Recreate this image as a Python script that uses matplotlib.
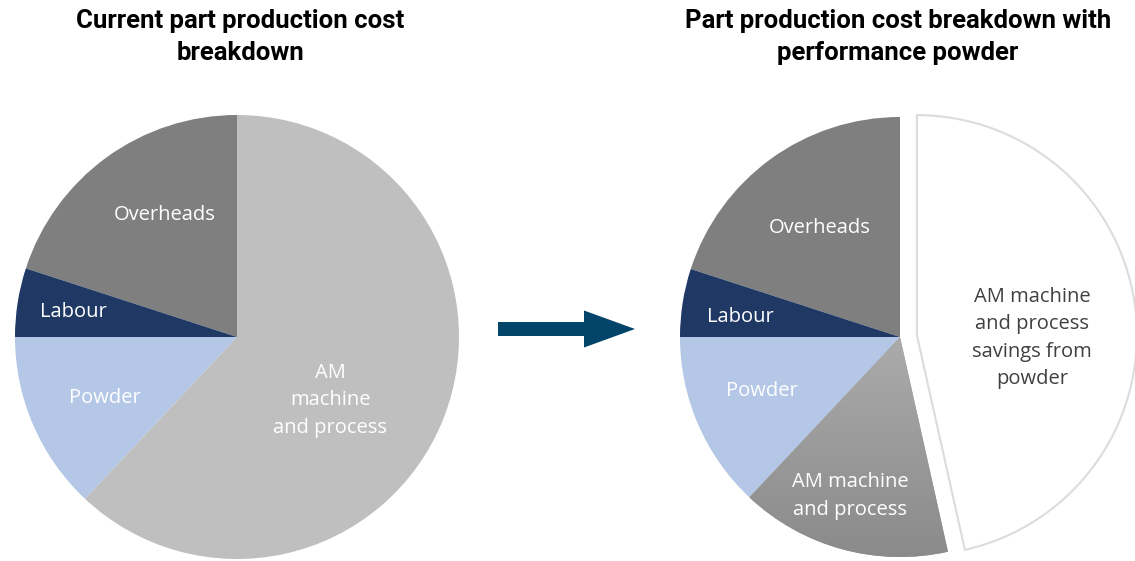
import numpy as np
import matplotlib.pyplot as plt
from matplotlib.patches import FancyArrow
from matplotlib.colors import LinearSegmentedColormap

# cost shares (%), drawn counter-clockwise from 12 o'clock
cur_labels = ["Overheads", "Labour", "Powder", "AM\nmachine\nand process"]
cur_values = [20, 5, 13, 62]
cur_colors = ["#7f7f7f", "#1f3864", "#b4c7e7", "#bfbfbf"]

new_labels = ["Overheads", "Labour", "Powder", "AM machine\nand process",
              "AM machine\nand process\nsavings from\npowder"]
new_values = [20, 5, 13, 15.5, 46.5]
new_colors = ["#7f7f7f", "#1f3864", "#b4c7e7", "#9c9c9c", "#ffffff"]
new_explode = [0, 0, 0, 0, 17]  # pixels (axes data units = pixels)

W, H = 1135, 561
fig = plt.figure(figsize=(W / 100, H / 100), dpi=100)
ax = fig.add_axes([0, 0, 1, 1])

lab_font = dict(family="Open Sans", fontsize=14.5, color="white",
                ha="center", va="center", linespacing=1.5)

# left pie
w1, _ = ax.pie(cur_values, colors=cur_colors, startangle=90, counterclock=True,
               center=(237, H - 337), radius=222,
               wedgeprops=dict(linewidth=0))
ax.text(165, H - 215, cur_labels[0], **lab_font)
ax.text(73, H - 312, cur_labels[1], **lab_font)
ax.text(105, H - 398, cur_labels[2], **lab_font)
ax.text(330, H - 400, cur_labels[3], **lab_font)

# right pie
w2, _ = ax.pie(new_values, colors=new_colors, startangle=90, counterclock=True,
               center=(900, H - 337), radius=220, explode=new_explode,
               wedgeprops=dict(linewidth=0))
w2[4].set_edgecolor("#dcdcdc")
w2[4].set_linewidth(1.5)

# gradient on AM machine wedge
cmap = LinearSegmentedColormap.from_list("g", ["#8a8a8a", "#ababab"])
grad = np.linspace(0, 1, 256).reshape(-1, 1)
im = ax.imshow(grad, cmap=cmap, extent=(680, 960, H - 560, H - 337),
               origin="lower", aspect="auto", zorder=w2[3].get_zorder())
im.set_clip_path(w2[3])

ax.text(820, H - 228, new_labels[0], **lab_font)
ax.text(740, H - 317, new_labels[1], **lab_font)
ax.text(762, H - 391, new_labels[2], **lab_font)
ax.text(850, H - 496, new_labels[3], **lab_font)
savings_font = dict(lab_font, color="#404040")
ax.text(1032, H - 338, new_labels[4], **savings_font)

# arrow
ax.add_patch(FancyArrow(498, H - 329, 137, 0, width=14, head_width=37,
                        head_length=51, length_includes_head=True,
                        color="#02446a", linewidth=0))

title_font = dict(family="Roboto", fontweight="bold", fontsize=18.5,
                  ha="center", va="center", linespacing=1.45)
ax.text(240, H - 37, "Current part production cost\nbreakdown", **title_font)
ax.text(898, H - 37, "Part production cost breakdown with\nperformance powder",
        **title_font)

ax.set_xlim(0, W)
ax.set_ylim(0, H)
ax.set_aspect("equal")
ax.axis("off")

fig.savefig("out.png", dpi=100)
